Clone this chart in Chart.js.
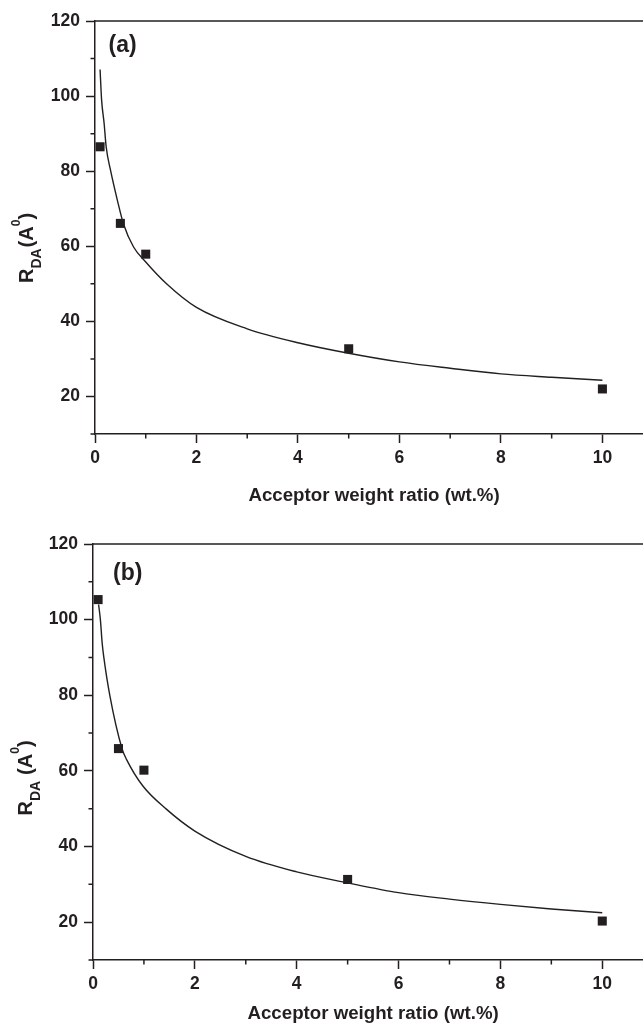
<!DOCTYPE html>
<html>
<head>
<meta charset="utf-8">
<script src="https://cdn.jsdelivr.net/npm/chart.js@4.4.1/dist/chart.umd.min.js"></script>
<style>
  body { margin: 0; background: #ffffff; }
  canvas { display: block; }
</style>
</head>
<body>
<canvas id="chartA" width="643" height="510"></canvas>
<canvas id="chartB" width="643" height="519"></canvas>
<script>
// measured points (acceptor weight ratio, wt.%)
const weightRatio = [0.1, 0.5, 1, 5, 10];
const rdaA = [86.5, 66.1, 57.9, 32.7, 22.0];
const rdaB = [105.3, 65.9, 60.2, 31.3, 20.3];

// fitted curves
const fitRatioA = [0.1, 0.13, 0.18, 0.22, 0.31, 0.44, 0.56, 0.76, 1.0, 1.41, 2.0, 3.0, 4.0, 5.0, 6.0, 7.0, 8.0, 9.0, 10.0];
const fitA = [107.1, 99.0, 92.7, 86.5, 80.0, 72.3, 66.0, 59.8, 55.8, 50.0, 43.7, 38.0, 34.3, 31.5, 29.2, 27.5, 26.0, 25.1, 24.3];
const fitRatioB = [0.11, 0.145, 0.18, 0.21, 0.33, 0.57, 0.66, 0.98, 1.44, 2.0, 3.0, 4.0, 5.0, 6.0, 7.0, 8.0, 9.0, 10.0];
const fitB = [104.0, 100.0, 93.8, 90.3, 80.0, 65.9, 63.0, 56.0, 49.9, 44.1, 37.4, 33.3, 30.4, 27.8, 26.1, 24.7, 23.5, 22.5];

// labelled ticks
const xTicks = [0, 2, 4, 6, 8, 10];
const yTicks = [20, 40, 60, 80, 100, 120];

const ink = '#231f20';
const fontFamily = '"Liberation Sans", Arial, sans-serif';

// draws top axis line, minor ticks, panel letter and both axis titles
const decorPlugin = {
    id: 'decor',
    afterDraw(chart, args, opts) {
        const { ctx, chartArea, scales } = chart;
        ctx.save();
        ctx.strokeStyle = ink;
        ctx.fillStyle = ink;
        ctx.lineWidth = 1.5;

        ctx.beginPath();
        ctx.moveTo(chartArea.left, chartArea.top);
        ctx.lineTo(chartArea.right, chartArea.top);
        ctx.stroke();

        // minor ticks (short, outward)
        ctx.beginPath();
        scales.x.ticks.forEach(t => {
            if (Number.isInteger(t.value) && !xTicks.includes(t.value)) {
                const px = scales.x.getPixelForValue(t.value);
                ctx.moveTo(px, chartArea.bottom);
                ctx.lineTo(px, chartArea.bottom + 4.5);
            }
        });
        scales.y.ticks.forEach(t => {
            if (!yTicks.includes(t.value)) {
                const py = scales.y.getPixelForValue(t.value);
                ctx.moveTo(chartArea.left - 4.5, py);
                ctx.lineTo(chartArea.left, py);
            }
        });
        ctx.stroke();

        // panel letter
        ctx.font = 'bold 23px ' + fontFamily;
        ctx.textBaseline = 'alphabetic';
        ctx.textAlign = 'left';
        ctx.fillText(opts.label, chartArea.left + opts.labelDx, chartArea.top + opts.labelDy);

        // x title
        ctx.font = 'bold 18.7px ' + fontFamily;
        ctx.textAlign = 'center';
        ctx.textBaseline = 'middle';
        ctx.fillText('Acceptor weight ratio (wt.%)', scales.x.getPixelForValue(5.5), chartArea.bottom + opts.xTitleDy);

        // y title with subscript and superscript
        const parts = [
            { t: 'R', size: 20, dy: 0 },
            { t: 'DA', size: 14, dy: 8 },
            { t: '(A', size: 20, dy: 0, gap: opts.gap },
            { t: '0', size: 12, dy: -13 },
            { t: ')', size: 20, dy: 0 }
        ];
        ctx.textAlign = 'left';
        ctx.textBaseline = 'alphabetic';
        let total = 0;
        parts.forEach(p => {
            ctx.font = 'bold ' + p.size + 'px ' + fontFamily;
            p.w = ctx.measureText(p.t).width;
            total += p.w + (p.gap || 0);
        });
        ctx.translate(opts.yTitleX, opts.yTitleY);
        ctx.rotate(-Math.PI / 2);
        let cx = -total / 2;
        parts.forEach(p => {
            cx += p.gap || 0;
            ctx.font = 'bold ' + p.size + 'px ' + fontFamily;
            ctx.fillText(p.t, cx, p.dy);
            cx += p.w;
        });
        ctx.restore();
    }
};

function makeChart(canvasId, points, fitX, fitY, decor, yAxisWidth, xAxisHeight, padTop) {
    const ctx = document.getElementById(canvasId).getContext('2d');
    return new Chart(ctx, {
        type: 'scatter',
        data: {
            datasets: [{
                label: 'data',
                data: weightRatio.map((x, i) => ({ x: x, y: points[i] })),
                pointStyle: 'rect',
                pointRadius: 6.4,
                backgroundColor: ink,
                borderWidth: 0
            }, {
                label: 'fit',
                data: fitX.map((x, i) => ({ x: x, y: fitY[i] })),
                showLine: true,
                borderColor: ink,
                borderWidth: 1.4,
                pointRadius: 0,
                cubicInterpolationMode: 'monotone',
                fill: false
            }]
        },
        options: {
            responsive: false,
            animation: false,
            // no extra room for point overflow, the plot runs to the right edge
            layout: { autoPadding: false, padding: { top: padTop, left: 0, right: 0, bottom: 0 } },
            plugins: {
                legend: { display: false },
                tooltip: { enabled: false },
                decor: decor
            },
            scales: {
                x: {
                    type: 'linear',
                    min: 0,
                    max: 10.8,
                    afterFit: scale => {
                        scale.height = xAxisHeight;
                        scale.paddingRight = 0;
                    },
                    border: { color: ink, width: 1.5 },
                    grid: {
                        drawOnChartArea: false,
                        tickLength: 9,
                        tickWidth: 1.5,
                        tickColor: c => xTicks.includes(c.tick.value) ? ink : 'rgba(0,0,0,0)'
                    },
                    ticks: {
                        stepSize: 1,
                        includeBounds: false,
                        autoSkip: false,
                        maxRotation: 0,
                        padding: 5,
                        color: ink,
                        font: { family: fontFamily, size: 17.5, weight: 'bold' },
                        callback: v => xTicks.includes(v) ? v : ''
                    }
                },
                y: {
                    min: 10,
                    max: 120,
                    afterFit: scale => { scale.width = yAxisWidth; },
                    border: { color: ink, width: 1.5 },
                    grid: {
                        drawOnChartArea: false,
                        tickLength: 9,
                        tickWidth: 1.5,
                        tickColor: c => yTicks.includes(c.tick.value) ? ink : 'rgba(0,0,0,0)'
                    },
                    ticks: {
                        stepSize: 10,
                        autoSkip: false,
                        padding: 6,
                        color: ink,
                        font: { family: fontFamily, size: 17.5, weight: 'bold' },
                        callback: v => yTicks.includes(v) ? v : ''
                    }
                }
            }
        },
        plugins: [decorPlugin]
    });
}

const chartA = makeChart('chartA', rdaA, fitRatioA, fitA,
    { label: '(a)', labelDx: 13.5, labelDy: 31, xTitleDy: 62, yTitleX: 33, yTitleY: 248, gap: 1 },
    95, 76, 21);

const chartB = makeChart('chartB', rdaB, fitRatioB, fitB,
    { label: '(b)', labelDx: 20, labelDy: 36, xTitleDy: 54, yTitleX: 32, yTitleY: 268, gap: 6 },
    93, 69, 34);
</script>
</body>
</html>
